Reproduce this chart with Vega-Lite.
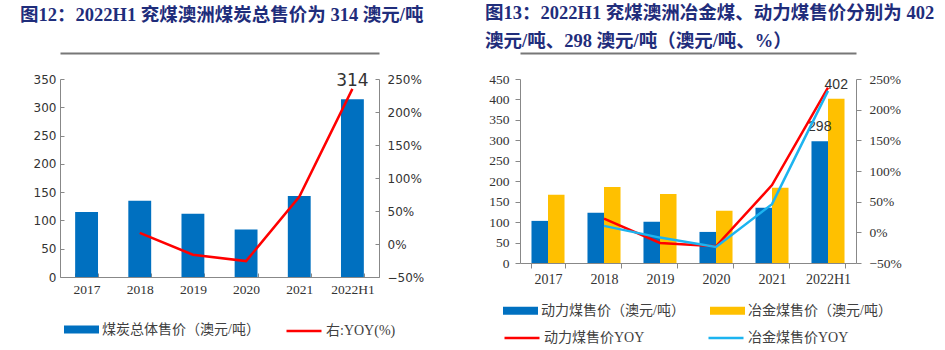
{
  "$schema": "https://vega.github.io/schema/vega-lite/v6.json",
  "padding": {"left": 20, "top": 3, "right": 5, "bottom": 0},
  "spacing": 56,
  "background": "white",
  "config": {
    "view": {"stroke": null},
    "axis": {"grid": false, "title": null, "labelColor": "#333333", "domainColor": "#888888", "tickColor": "#888888", "labelOverlap": false},
    "legend": {"padding": 0, "title": null}
  },
  "datasets": {
    "left_bars": [
      {"year": "2017", "series": "煤炭总体售价（澳元/吨）", "price": 115},
      {"year": "2018", "series": "煤炭总体售价（澳元/吨）", "price": 135},
      {"year": "2019", "series": "煤炭总体售价（澳元/吨）", "price": 112},
      {"year": "2020", "series": "煤炭总体售价（澳元/吨）", "price": 84},
      {"year": "2021", "series": "煤炭总体售价（澳元/吨）", "price": 143},
      {"year": "2022H1", "series": "煤炭总体售价（澳元/吨）", "price": 314}
    ],
    "left_yoy": [
      {"year": "2018", "series": "右:YOY(%)", "yoy": 0.168},
      {"year": "2019", "series": "右:YOY(%)", "yoy": -0.163},
      {"year": "2020", "series": "右:YOY(%)", "yoy": -0.259},
      {"year": "2021", "series": "右:YOY(%)", "yoy": 0.716},
      {"year": "2022H1", "series": "右:YOY(%)", "yoy": 2.35}
    ],
    "right_bars": [
      {"year": "2017", "series": "动力煤售价（澳元/吨）", "price": 103},
      {"year": "2018", "series": "动力煤售价（澳元/吨）", "price": 123},
      {"year": "2019", "series": "动力煤售价（澳元/吨）", "price": 101},
      {"year": "2020", "series": "动力煤售价（澳元/吨）", "price": 76},
      {"year": "2021", "series": "动力煤售价（澳元/吨）", "price": 135},
      {"year": "2022H1", "series": "动力煤售价（澳元/吨）", "price": 298},
      {"year": "2017", "series": "冶金煤售价（澳元/吨）", "price": 167},
      {"year": "2018", "series": "冶金煤售价（澳元/吨）", "price": 186},
      {"year": "2019", "series": "冶金煤售价（澳元/吨）", "price": 169},
      {"year": "2020", "series": "冶金煤售价（澳元/吨）", "price": 128},
      {"year": "2021", "series": "冶金煤售价（澳元/吨）", "price": 184},
      {"year": "2022H1", "series": "冶金煤售价（澳元/吨）", "price": 402}
    ],
    "right_yoy": [
      {"year": "2018", "series": "动力煤售价YOY", "yoy": 0.225},
      {"year": "2019", "series": "动力煤售价YOY", "yoy": -0.173},
      {"year": "2020", "series": "动力煤售价YOY", "yoy": -0.227},
      {"year": "2021", "series": "动力煤售价YOY", "yoy": 0.77},
      {"year": "2022H1", "series": "动力煤售价YOY", "yoy": 2.36},
      {"year": "2018", "series": "冶金煤售价YOY", "yoy": 0.105},
      {"year": "2019", "series": "冶金煤售价YOY", "yoy": -0.086},
      {"year": "2020", "series": "冶金煤售价YOY", "yoy": -0.238},
      {"year": "2021", "series": "冶金煤售价YOY", "yoy": 0.46},
      {"year": "2022H1", "series": "冶金煤售价YOY", "yoy": 2.307}
    ]
  },
  "hconcat": [
    {
      "width": 319,
      "height": 198,
      "title": {
        "text": "图12：2022H1 兖煤澳洲煤炭总售价为 314 澳元/吨",
        "anchor": "start", "frame": "bounds", "offset": 29,
        "font": "Liberation Serif, Noto Sans CJK SC", "fontSize": 18.5, "fontWeight": "bold", "color": "#1F2D7B"
      },
      "layer": [
        {
          "data": {"name": "left_bars"},
          "layer": [
            {
              "mark": {"type": "bar"},
              "encoding": {
                "fill": {
                  "field": "series", "type": "nominal",
                  "scale": {"range": ["#0070C0"]},
                  "legend": {"orient": "none", "legendX": 4, "legendY": 233, "direction": "horizontal",
                             "symbolType": "M-1,-0.23H1V0.23H-1Z", "symbolSize": 1225, "symbolStrokeWidth": 0,
                             "labelFont": "Liberation Serif, Noto Sans CJK SC", "labelFontSize": 14, "labelColor": "#404040", "labelOffset": 3}
                }
              }
            },
            {
              "transform": [{"filter": "datum.year == '2022H1'"}],
              "mark": {"type": "text", "dy": -18, "font": "DejaVu Sans", "fontSize": 17, "color": "#333333"},
              "encoding": {
                "text": {"field": "price", "type": "quantitative"}
              }
            }
          ],
          "encoding": {
            "x": {
              "field": "year", "type": "ordinal", "sort": null,
              "scale": {"paddingInner": 0.57, "paddingOuter": 0.285},
              "axis": {"orient": "bottom", "labelAngle": 0, "tickBand": "extent", "tickSize": -4, "labelPadding": 9,
                       "labelFont": "Liberation Serif", "labelFontSize": 13.5}
            },
            "y": {
              "field": "price", "type": "quantitative",
              "scale": {"domain": [0, 350], "nice": false},
              "axis": {"orient": "left", "values": [0, 50, 100, 150, 200, 250, 300, 350], "tickSize": -4, "labelPadding": 8,
                       "labelFont": "DejaVu Sans", "labelFontSize": 12, "minExtent": 40, "maxExtent": 40}
            }
          }
        },
        {
          "data": {"name": "left_yoy"},
          "mark": {"type": "line", "strokeWidth": 2.5},
          "encoding": {
            "x": {
              "field": "year", "type": "ordinal", "sort": null,
              "axis": {"orient": "top", "labels": false, "ticks": false, "domainColor": "#777777", "domainWidth": 2, "offset": 26}
            },
            "y": {
              "field": "yoy", "type": "quantitative",
              "scale": {"domain": [-0.5, 2.5], "nice": false, "zero": false},
              "axis": {"orient": "right", "values": [-0.5, 0, 0.5, 1, 1.5, 2, 2.5], "format": ".0%", "tickSize": -4, "labelPadding": 12,
                       "labelFont": "DejaVu Sans", "labelFontSize": 12, "minExtent": 50, "maxExtent": 50}
            },
            "stroke": {
              "field": "series", "type": "nominal",
              "scale": {"range": ["#FF0000"]},
              "legend": {"orient": "none", "legendX": 225, "legendY": 233, "direction": "horizontal",
                         "symbolType": "stroke", "symbolSize": 1225, "symbolStrokeWidth": 2.5,
                         "labelFont": "Liberation Serif, Noto Sans CJK SC", "labelFontSize": 14, "labelColor": "#404040", "labelOffset": 3}
            }
          }
        }
      ],
      "resolve": {"scale": {"y": "independent"}, "axis": {"x": "independent", "y": "independent"}}
    },
    {
      "width": 336,
      "height": 184,
      "title": {
        "text": ["图13：2022H1 兖煤澳洲冶金煤、动力煤售价分别为 402", "澳元/吨、298 澳元/吨（澳元/吨、%）"],
        "anchor": "start", "frame": "bounds", "offset": 3, "lineHeight": 28,
        "font": "Liberation Serif, Noto Sans CJK SC", "fontSize": 18.5, "fontWeight": "bold", "color": "#1F2D7B"
      },
      "layer": [
        {
          "data": {"name": "right_bars"},
          "layer": [
            {
              "mark": {"type": "bar"},
              "encoding": {
                "fill": {
                  "field": "series", "type": "nominal",
                  "scale": {"domain": ["动力煤售价（澳元/吨）", "冶金煤售价（澳元/吨）"], "range": ["#0070C0", "#FFC000"]},
                  "legend": {"orient": "none", "legendX": -17, "legendY": 214, "direction": "horizontal", "columnPadding": 25,
                             "symbolType": "M-1,-0.23H1V0.23H-1Z", "symbolSize": 1225, "symbolStrokeWidth": 0,
                             "labelFont": "Liberation Serif, Noto Sans CJK SC", "labelFontSize": 14, "labelColor": "#404040", "labelOffset": 3}
                }
              }
            },
            {
              "transform": [{"filter": "datum.year == '2022H1'"}],
              "mark": {"type": "text", "dy": -14, "font": "Liberation Sans", "fontSize": 14, "color": "#333333"},
              "encoding": {
                "text": {"field": "price", "type": "quantitative"}
              }
            }
          ],
          "encoding": {
            "x": {
              "field": "year", "type": "ordinal", "sort": null,
              "scale": {"paddingInner": 0.41, "paddingOuter": 0.205},
              "axis": {"orient": "bottom", "labelAngle": 0, "tickBand": "extent", "tickSize": 5, "labelPadding": 4,
                       "labelFont": "Liberation Serif", "labelFontSize": 14}
            },
            "xOffset": {
              "field": "series", "type": "nominal",
              "scale": {"domain": ["动力煤售价（澳元/吨）", "冶金煤售价（澳元/吨）"], "paddingInner": 0}
            },
            "y": {
              "field": "price", "type": "quantitative",
              "scale": {"domain": [0, 450], "nice": false},
              "axis": {"orient": "left", "values": [0, 50, 100, 150, 200, 250, 300, 350, 400, 450], "tickSize": 5, "labelPadding": 6,
                       "labelFont": "Liberation Serif", "labelFontSize": 13.5, "minExtent": 35, "maxExtent": 35}
            }
          }
        },
        {
          "data": {"name": "right_yoy"},
          "mark": {"type": "line", "strokeWidth": 2.5},
          "encoding": {
            "x": {
              "field": "year", "type": "ordinal", "sort": null,
              "axis": {"orient": "top", "labels": false, "ticks": false, "domainColor": "#777777", "domainWidth": 2, "offset": 26}
            },
            "y": {
              "field": "yoy", "type": "quantitative",
              "scale": {"domain": [-0.5, 2.5], "nice": false, "zero": false},
              "axis": {"orient": "right", "values": [-0.5, 0, 0.5, 1, 1.5, 2, 2.5], "format": ".0%", "tickSize": 5, "labelPadding": 8,
                       "labelFont": "Liberation Serif", "labelFontSize": 13.5, "minExtent": 47, "maxExtent": 47}
            },
            "stroke": {
              "field": "series", "type": "nominal",
              "scale": {"domain": ["动力煤售价YOY", "冶金煤售价YOY"], "range": ["#FF0000", "#1CB4F0"]},
              "legend": {"orient": "none", "legendX": -17, "legendY": 240, "direction": "horizontal", "columnPadding": 58,
                         "symbolType": "stroke", "symbolSize": 1225, "symbolStrokeWidth": 2.5,
                         "labelFont": "Liberation Serif, Noto Sans CJK SC", "labelFontSize": 14, "labelColor": "#404040", "labelOffset": 3}
            }
          }
        }
      ],
      "resolve": {"scale": {"y": "independent"}, "axis": {"x": "independent", "y": "independent"}}
    }
  ],
  "resolve": {"scale": {"fill": "independent", "stroke": "independent"}}
}
